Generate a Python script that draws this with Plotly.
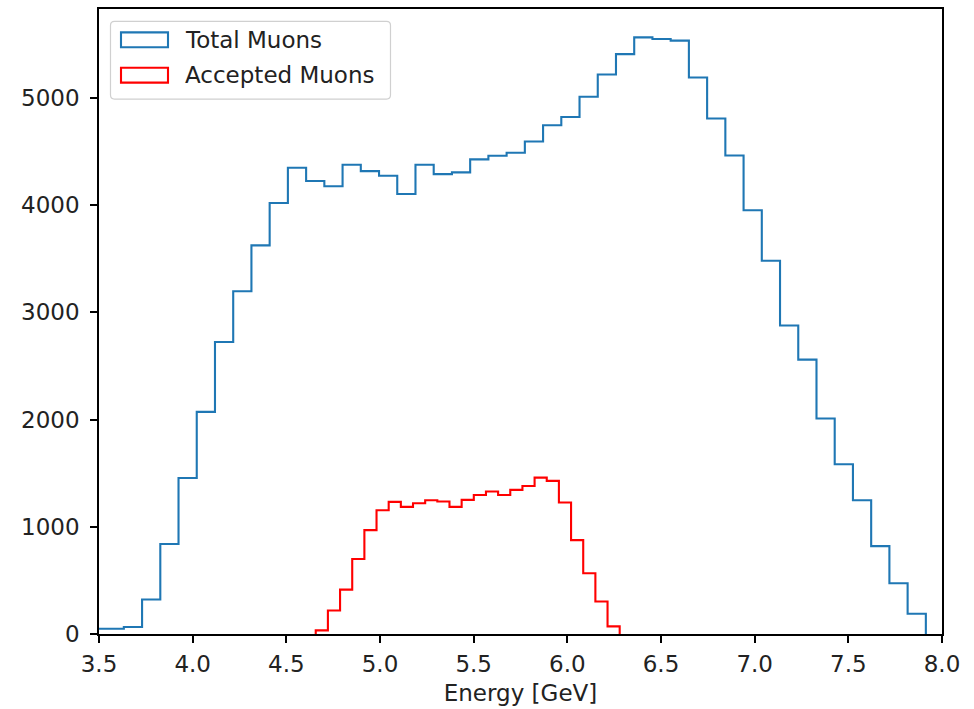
import numpy as np
import plotly.graph_objects as go

# Histogram of muon energies: bin edges and counts per bin
total_start = 3.438
total_width = 0.0973
total_counts = [
    49, 49, 65, 322, 839, 1455, 2072, 2724, 3197, 3625,
    4020, 4349, 4225, 4176, 4377, 4318, 4275, 4104, 4377, 4290,
    4306, 4427, 4461, 4489, 4594, 4746, 4823, 5012, 5219, 5409,
    5565, 5550, 5535, 5191, 4808, 4464, 3953, 3482, 2877, 2559,
    2010, 1583, 1248, 820, 474, 189,
]

accepted_start = 4.657
accepted_width = 0.0649
accepted_counts = [
    34, 219, 414, 700, 969, 1155, 1232, 1186, 1220, 1248,
    1236, 1186, 1251, 1297, 1329, 1297, 1344, 1381, 1459, 1428,
    1227, 876, 567, 303, 71,
]

legend_labels = ["Total Muons", "Accepted Muons"]
x_ticks = [3.5, 4.0, 4.5, 5.0, 5.5, 6.0, 6.5, 7.0, 7.5, 8.0]
y_ticks = [0, 1000, 2000, 3000, 4000, 5000]

BLUE = "#1f77b4"
RED = "#ff0000"
FONT = "DejaVu Sans"
FS = 23
TXT = "#222222"


def step_outline(start, width, counts):
    """Outline of a step histogram: rise at the first edge, fall at the last."""
    n = len(counts)
    edges = start + width * np.arange(n + 1)
    xs = [edges[0]] + list(edges[:-1]) + [edges[-1]]
    ys = [0] + list(counts) + [0]
    return xs, ys


fig = go.Figure()
for (start, width, counts), color, name in [
    ((total_start, total_width, total_counts), BLUE, legend_labels[0]),
    ((accepted_start, accepted_width, accepted_counts), RED, legend_labels[1]),
]:
    xs, ys = step_outline(start, width, counts)
    fig.add_trace(go.Scatter(
        x=xs, y=ys, mode="lines", name=name,
        line=dict(color=color, width=2.1, shape="hv"),
        showlegend=False, hoverinfo="skip",
    ))

W, H = 974, 709
ML, MR, MT, MB = 99, 32, 7, 74
PW, PH = W - ML - MR, H - MT - MB


def px_x(px):
    return (px - ML) / PW


def px_y(py):
    return (H - MB - py) / PH


shapes = []
annotations = []

# Legend frame with rounded corners
x0, x1, y0, y1 = 110.5, 390.5, 19.5, 97.5
r = 4
rx, ry = r / PW, r / PH
X0, X1, Y0, Y1 = px_x(x0), px_x(x1), px_y(y1), px_y(y0)
path = (
    f"M {X0 + rx},{Y0} L {X1 - rx},{Y0} Q {X1},{Y0} {X1},{Y0 + ry} "
    f"L {X1},{Y1 - ry} Q {X1},{Y1} {X1 - rx},{Y1} "
    f"L {X0 + rx},{Y1} Q {X0},{Y1} {X0},{Y1 - ry} "
    f"L {X0},{Y0 + ry} Q {X0},{Y0} {X0 + rx},{Y0} Z"
)
shapes.append(dict(type="path", xref="paper", yref="paper", path=path,
                   line=dict(color="#d0d0d0", width=1.2),
                   fillcolor="rgba(255,255,255,0.8)", layer="above"))

for i, (label, color) in enumerate(zip(legend_labels, [BLUE, RED])):
    cy = 38 + i * 35.5
    shapes.append(dict(type="rect", xref="paper", yref="paper",
                       x0=px_x(121), x1=px_x(168),
                       y0=px_y(cy + 7.5), y1=px_y(cy - 7.5),
                       line=dict(color=color, width=2.1),
                       fillcolor="rgba(0,0,0,0)", layer="above"))
    annotations.append(dict(text=label, xref="paper", yref="paper",
                            x=px_x(183), y=px_y(cy), xanchor="left",
                            yanchor="middle", showarrow=False,
                            font=dict(family=FONT, size=FS, color=TXT)))

fig.update_layout(
    width=W, height=H,
    margin=dict(l=ML, r=MR, t=MT, b=MB, pad=0),
    paper_bgcolor="white", plot_bgcolor="white",
    font=dict(family=FONT, size=FS, color=TXT),
    shapes=shapes, annotations=annotations,
    showlegend=False,
)
axis_common = dict(
    showline=True, linecolor="black", linewidth=1.7, mirror=True,
    ticks="outside", ticklen=7, tickwidth=1.7, tickcolor="black",
    showgrid=False, zeroline=False,
    tickfont=dict(family=FONT, size=FS, color=TXT),
)
fig.update_xaxes(
    range=[3.5, 8.0], tickvals=x_ticks,
    ticktext=[f"{v:.1f}" for v in x_ticks],
    ticklabelstandoff=2,
    title=dict(text="Energy [GeV]", font=dict(family=FONT, size=FS, color=TXT),
               standoff=8),
    **axis_common,
)
fig.update_yaxes(
    range=[0, 5830], tickvals=y_ticks,
    ticktext=[str(v) for v in y_ticks],
    ticklabelstandoff=6,
    **axis_common,
)

fig.write_html("out.html")
